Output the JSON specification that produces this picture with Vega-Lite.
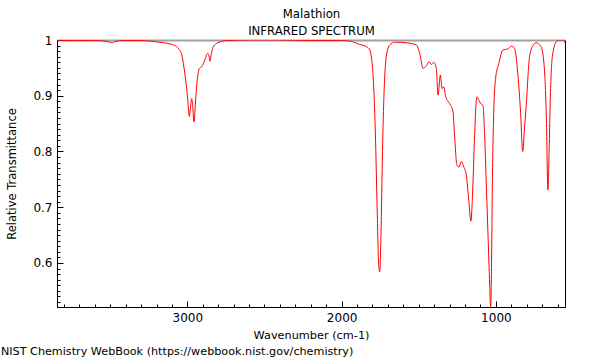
{
  "$schema": "https://vega.github.io/schema/vega-lite/v6.json",
  "width": 508,
  "height": 267,
  "autosize": {"type": "none"},
  "padding": {"left": 57, "top": 40, "right": 35, "bottom": 53},
  "background": "white",
  "config": {
    "font": "DejaVu Sans",
    "view": {"stroke": "#000000", "strokeWidth": 1},
    "axis": {"grid": false, "labelColor": "#000", "titleColor": "#000", "domainColor": "#000", "tickColor": "#000", "labelFontSize": 12, "titleFontSize": 12, "titleFontWeight": "normal", "labelFont": "DejaVu Sans", "titleFont": "DejaVu Sans"}
  },
  "title": {
    "text": "NIST Chemistry WebBook (https://webbook.nist.gov/chemistry)",
    "orient": "bottom",
    "anchor": "start",
    "frame": "bounds",
    "font": "DejaVu Sans",
    "fontSize": 11.2,
    "fontWeight": "normal",
    "color": "#000",
    "offset": 6,
    "dx": -6
  },
  "data": {
    "values": [
      {"w": 3845, "t": 0.999}, {"w": 3800, "t": 0.999}, {"w": 3700, "t": 0.999}, {"w": 3600, "t": 0.999},
      {"w": 3540, "t": 0.998}, {"w": 3500, "t": 0.996}, {"w": 3487, "t": 0.995}, {"w": 3470, "t": 0.997},
      {"w": 3420, "t": 0.999}, {"w": 3300, "t": 0.999}, {"w": 3208, "t": 0.997}, {"w": 3150, "t": 0.995},
      {"w": 3112, "t": 0.993}, {"w": 3080, "t": 0.99}, {"w": 3058, "t": 0.985}, {"w": 3036, "t": 0.973},
      {"w": 3015, "t": 0.937}, {"w": 3000, "t": 0.901}, {"w": 2987, "t": 0.863}, {"w": 2980, "t": 0.878},
      {"w": 2972, "t": 0.895}, {"w": 2965, "t": 0.88}, {"w": 2957, "t": 0.853}, {"w": 2948, "t": 0.885},
      {"w": 2939, "t": 0.919}, {"w": 2922, "t": 0.949}, {"w": 2907, "t": 0.952}, {"w": 2890, "t": 0.962},
      {"w": 2868, "t": 0.976}, {"w": 2860, "t": 0.972}, {"w": 2853, "t": 0.962}, {"w": 2845, "t": 0.975},
      {"w": 2836, "t": 0.985}, {"w": 2810, "t": 0.994}, {"w": 2745, "t": 0.999}, {"w": 2600, "t": 1.0},
      {"w": 2400, "t": 1.0}, {"w": 2200, "t": 0.999}, {"w": 2000, "t": 0.999}, {"w": 1947, "t": 0.998},
      {"w": 1882, "t": 0.992}, {"w": 1839, "t": 0.988}, {"w": 1817, "t": 0.982}, {"w": 1806, "t": 0.967},
      {"w": 1796, "t": 0.937}, {"w": 1780, "t": 0.82}, {"w": 1770, "t": 0.7}, {"w": 1760, "t": 0.6},
      {"w": 1753, "t": 0.584}, {"w": 1745, "t": 0.65}, {"w": 1735, "t": 0.8}, {"w": 1728, "t": 0.88},
      {"w": 1720, "t": 0.937}, {"w": 1709, "t": 0.973}, {"w": 1688, "t": 0.991}, {"w": 1656, "t": 0.996},
      {"w": 1580, "t": 0.995}, {"w": 1515, "t": 0.991}, {"w": 1494, "t": 0.976}, {"w": 1472, "t": 0.949},
      {"w": 1450, "t": 0.954}, {"w": 1433, "t": 0.961}, {"w": 1418, "t": 0.956}, {"w": 1403, "t": 0.96},
      {"w": 1386, "t": 0.949}, {"w": 1375, "t": 0.901}, {"w": 1360, "t": 0.937}, {"w": 1349, "t": 0.913},
      {"w": 1338, "t": 0.916}, {"w": 1325, "t": 0.898}, {"w": 1300, "t": 0.886}, {"w": 1278, "t": 0.871},
      {"w": 1268, "t": 0.83}, {"w": 1253, "t": 0.776}, {"w": 1240, "t": 0.772}, {"w": 1224, "t": 0.782},
      {"w": 1209, "t": 0.773}, {"w": 1192, "t": 0.758}, {"w": 1175, "t": 0.71}, {"w": 1162, "t": 0.675},
      {"w": 1149, "t": 0.74}, {"w": 1138, "t": 0.83}, {"w": 1123, "t": 0.898}, {"w": 1110, "t": 0.892},
      {"w": 1099, "t": 0.886}, {"w": 1084, "t": 0.883}, {"w": 1073, "t": 0.83}, {"w": 1062, "t": 0.74},
      {"w": 1051, "t": 0.65}, {"w": 1040, "t": 0.56}, {"w": 1034, "t": 0.521}, {"w": 1028, "t": 0.6},
      {"w": 1023, "t": 0.74}, {"w": 1015, "t": 0.86}, {"w": 1002, "t": 0.931}, {"w": 981, "t": 0.958},
      {"w": 955, "t": 0.982}, {"w": 922, "t": 0.984}, {"w": 900, "t": 0.989}, {"w": 879, "t": 0.985},
      {"w": 858, "t": 0.94}, {"w": 840, "t": 0.87}, {"w": 826, "t": 0.8}, {"w": 815, "t": 0.84},
      {"w": 804, "t": 0.88}, {"w": 782, "t": 0.97}, {"w": 760, "t": 0.99}, {"w": 739, "t": 0.995},
      {"w": 707, "t": 0.988}, {"w": 685, "t": 0.946}, {"w": 672, "t": 0.85}, {"w": 663, "t": 0.731},
      {"w": 655, "t": 0.8}, {"w": 647, "t": 0.898}, {"w": 634, "t": 0.97}, {"w": 608, "t": 0.997},
      {"w": 587, "t": 1.0}, {"w": 561, "t": 1.0}, {"w": 552, "t": 0.995}
    ]
  },
  "layer": [
    {
      "mark": {"type": "line", "color": "#ff0000", "strokeWidth": 1, "interpolate": "monotone", "clip": true},
      "encoding": {
        "x": {
          "field": "w", "type": "quantitative",
          "scale": {"domain": [3845, 552], "nice": false, "zero": false},
          "axis": {
            "orient": "bottom",
            "values": [3800, 3700, 3600, 3500, 3400, 3300, 3200, 3100, 3000, 2900, 2800, 2700, 2600, 2500, 2400, 2300, 2200, 2100, 2000, 1900, 1800, 1700, 1600, 1500, 1400, 1300, 1200, 1100, 1000, 900, 800, 700, 600],
            "format": "d",
            "labelExpr": "datum.value % 1000 == 0 ? datum.label : ''",
            "tickSize": {"condition": {"test": "datum.value % 1000 == 0", "value": -6}, "value": -3},
            "labelPadding": 11,
            "labelFlush": false,
            "labelOverlap": false,
            "title": "Wavenumber (cm-1)",
            "titleFontSize": 11.3,
            "titlePadding": 3
          }
        },
        "y": {
          "field": "t", "type": "quantitative",
          "scale": {"domain": [0.521, 1.0], "nice": false, "zero": false},
          "axis": {
            "orient": "left",
            "values": [0.53, 0.54, 0.55, 0.56, 0.57, 0.58, 0.59, 0.6, 0.61, 0.62, 0.63, 0.64, 0.65, 0.66, 0.67, 0.68, 0.69, 0.7, 0.71, 0.72, 0.73, 0.74, 0.75, 0.76, 0.77, 0.78, 0.79, 0.8, 0.81, 0.82, 0.83, 0.84, 0.85, 0.86, 0.87, 0.88, 0.89, 0.9, 0.91, 0.92, 0.93, 0.94, 0.95, 0.96, 0.97, 0.98, 0.99, 1.0],
            "labelExpr": "round(datum.value*100) % 10 == 0 ? (datum.value >= 0.999 ? '1' : format(datum.value, '.1f')) : ''",
            "tickSize": {"condition": {"test": "round(datum.value*100) % 10 == 0", "value": -6}, "value": -3},
            "labelPadding": 11,
            "labelFlush": false,
            "labelOverlap": false,
            "title": "Relative Transmittance",
            "titleFontSize": 11.5,
            "titlePadding": 15
          }
        }
      }
    },
    {
      "mark": {"type": "line", "strokeOpacity": 0},
      "encoding": {
        "x": {
          "field": "w", "type": "quantitative",
          "axis": {
            "orient": "top",
            "ticks": false,
            "labels": false,
            "domainColor": "#a0a0a0",
            "domainWidth": 2,
            "title": ["Malathion", "INFRARED SPECTRUM"],
            "titleFontSize": 11.7,
            "titleLineHeight": 17,
            "titlePadding": 4
          }
        },
        "y": {"field": "t", "type": "quantitative", "axis": null}
      }
    }
  ],
  "resolve": {"axis": {"x": "independent", "y": "independent"}}
}
